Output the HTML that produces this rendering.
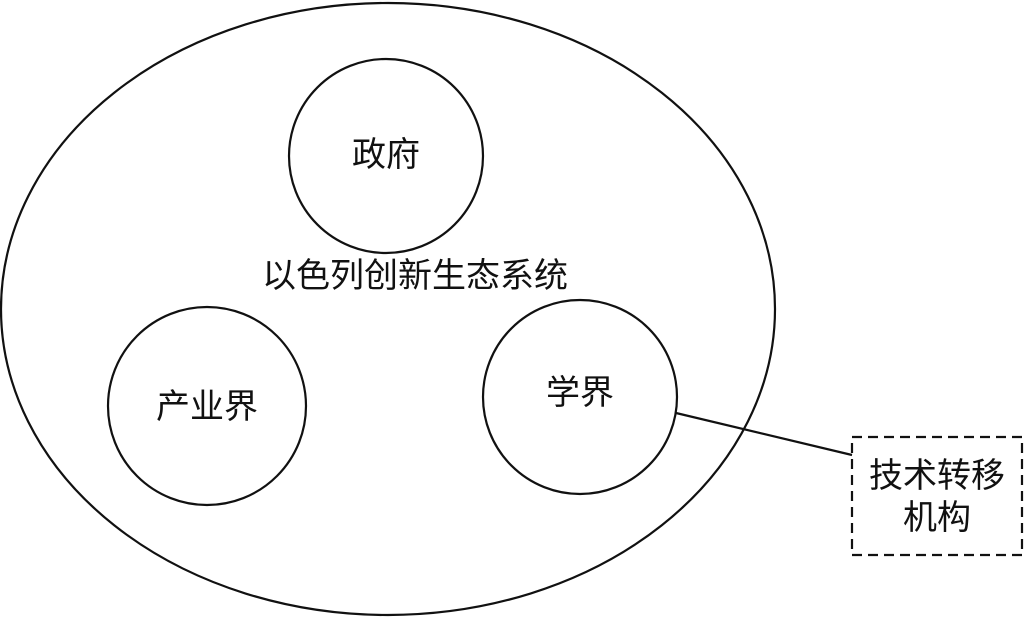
<!DOCTYPE html>
<html><head><meta charset="utf-8"><style>
html,body{margin:0;padding:0;background:#fff;}
svg text{font-family:"Liberation Sans","Noto Sans CJK SC",sans-serif;font-size:34px;fill:#111;text-anchor:middle;dominant-baseline:central;}
</style></head><body>
<svg width="1024" height="618" viewBox="0 0 1024 618">
<g fill="none" stroke="#111" stroke-width="2.2">
<ellipse cx="388" cy="309" rx="387" ry="306"/>
<circle cx="386" cy="156" r="97"/>
<circle cx="207" cy="406" r="99"/>
<circle cx="580" cy="397" r="97"/>
<line x1="676" y1="413" x2="852" y2="455"/>
<rect x="852" y="437" width="170" height="118" stroke-dasharray="10,6"/>
</g>
<text x="386" y="155">政府</text>
<text x="415" y="276">以色列创新生态系统</text>
<text x="207" y="407">产业界</text>
<text x="580" y="393">学界</text>
<text x="937" y="476">技术转移</text>
<text x="937" y="518">机构</text>
</svg>
</body></html>
